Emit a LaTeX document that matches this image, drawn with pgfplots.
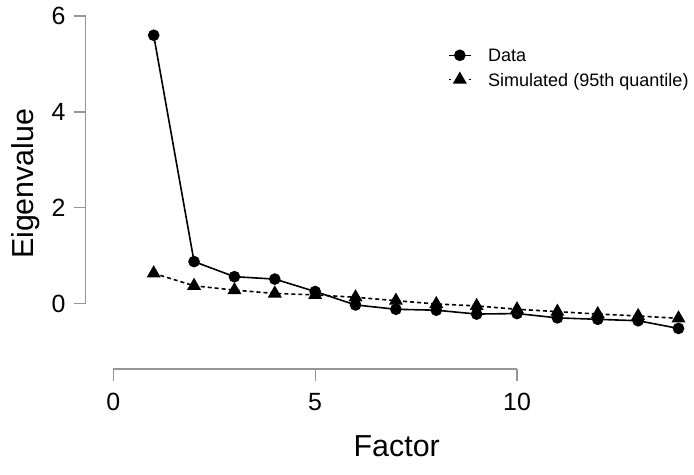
\documentclass[border=0pt]{standalone}
\usepackage{fontspec}
\setmainfont{Liberation Sans}
\usepackage{pgfplots}
\pgfplotsset{compat=1.18}
\definecolor{axisgray}{RGB}{150,150,150}

\begin{document}
\begin{tikzpicture}
\begin{axis}[
  scale only axis,
  width=608.3bp, height=369bp,
  xmin=-0.684, xmax=14.384,
  ymin=-1.367, ymax=6.336,
  clip=false,
  axis line style={draw=none},
  tick pos=left,
  tick align=outside,
  major tick length=12bp,
  every tick/.style={axisgray, line width=1.3bp},
  xtick={0,5,10}, ytick={0,2,4,6},
  /pgf/number format/assume math mode=true,
  ticklabel style={font=\fontsize{25}{30}\selectfont, text=black},
  xticklabel style={anchor=north, inner sep=0pt, yshift=-12bp},
  yticklabel style={anchor=east, inner sep=0pt, xshift=-8bp},
  legend style={draw=none, fill=none, at={(axis cs:8.29,5.338)}, anchor=north west,
    inner sep=0pt, font=\fontsize{18.1}{22}\selectfont, row sep=9.7bp,
    nodes={inner sep=0pt, text height=13bp, text depth=0bp}},
  legend cell align=left,
  legend image code/.code={
    \draw[mark repeat=2, mark phase=2, #1] plot coordinates {(0bp,0bp) (10.85bp,0bp) (21.7bp,0bp)};
    \path (0bp,-6.5bp) (38.3bp,6.5bp);
  },
]
% scree plot: observed eigenvalues and simulated 95th quantile
\addplot[black, line width=1.6bp, mark=*, mark size=5bp, mark options={solid}]
  coordinates {(1,5.60) (2,0.875) (3,0.56) (4,0.51) (5,0.25) (6,-0.03) (7,-0.12)
               (8,-0.14) (9,-0.22) (10,-0.21) (11,-0.30) (12,-0.33) (13,-0.36) (14,-0.52)};
\addlegendentry{Data}
\addplot[black, line width=1.6bp, dash pattern=on 4bp off 3bp, mark=triangle*, mark size=6.5bp, mark options={solid},
  legend image post style={dash pattern=on 2bp off 7.85bp}]
  coordinates {(1,0.63) (2,0.37) (3,0.28) (4,0.21) (5,0.18) (6,0.13) (7,0.06)
               (8,-0.01) (9,-0.05) (10,-0.12) (11,-0.17) (12,-0.22) (13,-0.26) (14,-0.31)};
\addlegendentry{Simulated (95th quantile)}

% detached axis lines spanning the tick range
\draw[axisgray, line width=1.3bp] (axis cs:0,-1.367) -- (axis cs:10,-1.367);
\draw[axisgray, line width=1.3bp] (axis cs:-0.684,0) -- (axis cs:-0.684,6);

% axis titles
\node[anchor=base, font=\fontsize{30.5}{36}\selectfont] at (axis cs:7.02,-3.198) {Factor};
\node[anchor=base, rotate=90, font=\fontsize{30.5}{36}\selectfont] at (axis cs:-1.989,2.50) {Eigenvalue};

\coordinate (bbsw) at (axis cs:-2.807,-3.5595);
\coordinate (bbne) at (axis cs:14.384,6.336);
\end{axis}
\pgfresetboundingbox
\path[use as bounding box] (bbsw) rectangle (bbne);
\end{tikzpicture}
\end{document}
